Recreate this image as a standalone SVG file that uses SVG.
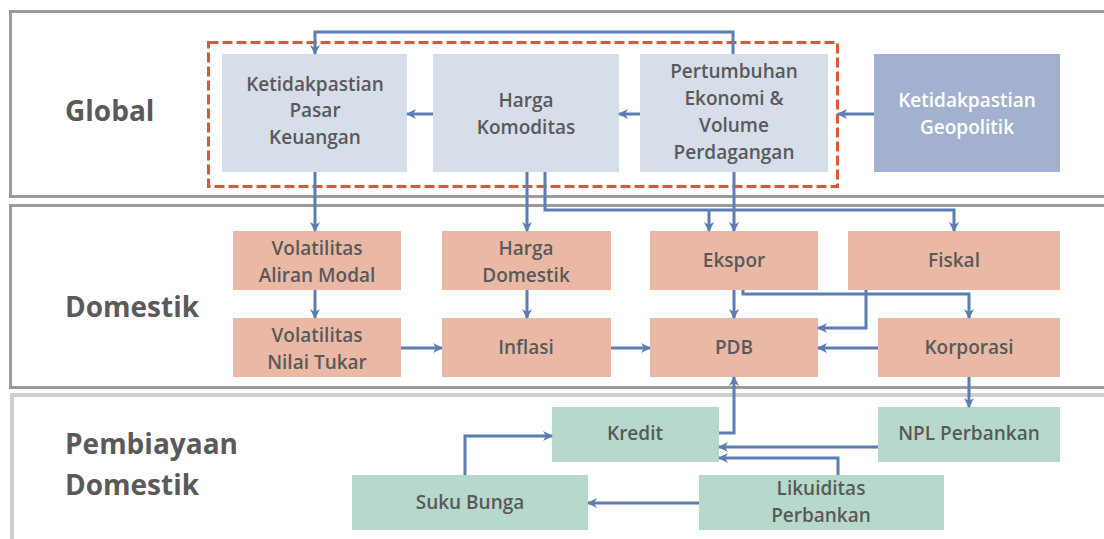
<svg xmlns="http://www.w3.org/2000/svg" width="1104" height="539" viewBox="0 0 1104 539">
<defs>
<style>
.sec{fill:none;stroke:#9b9b9b;stroke-width:3}
.sec3{fill:none;stroke:#cfcfcf;stroke-width:4}
.lbl{font-family:"Open Sans","Liberation Sans",sans-serif;font-weight:700;font-size:28px;fill:#5a5a5a}
.t{font-family:"Open Sans","Liberation Sans",sans-serif;font-size:19px;font-weight:600;fill:#595959;text-anchor:middle}
.tw{fill:#ffffff}
.g{fill:#d6deea}
.gp{fill:#a2b1cf}
.d{fill:#eab9a5}
.p{fill:#b7d9cb}
.c{fill:none;stroke:#5b7db4;stroke-width:3;marker-end:url(#ah)}
</style>
<marker id="ah" viewBox="0 0 10 10" refX="9" refY="5" markerWidth="10" markerHeight="10" markerUnits="userSpaceOnUse" orient="auto">
<path d="M0,0 L10,5 L0,10 L3,5 Z" fill="#5b7db4"/>
</marker>
</defs>
<rect width="1104" height="539" fill="#ffffff"/>
<g id="sections">
<rect class="sec" x="10.5" y="11.5" width="1110" height="185"/>
<rect class="sec" x="10.5" y="205.5" width="1110" height="182"/>
<path class="sec3" d="M12,545 V395 H1110"/>
<text class="lbl" x="65" y="121">Global</text>
<text class="lbl" x="65" y="317">Domestik</text>
<text class="lbl" x="65" y="454">Pembiayaan</text>
<text class="lbl" x="65" y="495">Domestik</text>
</g>
<rect id="globalGroup" x="208.5" y="42.5" width="629" height="144" fill="none" stroke="#d65a3a" stroke-width="3" stroke-dasharray="10 4"/>
<g id="n-ketidakpastian-pasar">
<rect class="g" x="222" y="54" width="185" height="118"/>
<text class="t" x="315" y="91">Ketidakpastian</text>
<text class="t" x="315" y="117">Pasar</text>
<text class="t" x="315" y="144">Keuangan</text>
</g>
<g id="n-harga-komoditas">
<rect class="g" x="433" y="54" width="186" height="118"/>
<text class="t" x="526" y="107">Harga</text>
<text class="t" x="526" y="134">Komoditas</text>
</g>
<g id="n-pertumbuhan">
<rect class="g" x="640" y="54" width="188" height="118"/>
<text class="t" x="734" y="78">Pertumbuhan</text>
<text class="t" x="734" y="105">Ekonomi &amp;</text>
<text class="t" x="734" y="132">Volume</text>
<text class="t" x="734" y="159">Perdagangan</text>
</g>
<g id="n-geopolitik">
<rect class="gp" x="874" y="54" width="186" height="118"/>
<text class="t tw" x="967" y="107">Ketidakpastian</text>
<text class="t tw" x="967" y="134">Geopolitik</text>
</g>
<g id="n-vol-aliran">
<rect class="d" x="233" y="231" width="168" height="59"/>
<text class="t" x="317" y="255">Volatilitas</text>
<text class="t" x="317" y="282">Aliran Modal</text>
</g>
<g id="n-harga-domestik">
<rect class="d" x="442" y="231" width="169" height="59"/>
<text class="t" x="526" y="255">Harga</text>
<text class="t" x="526" y="282">Domestik</text>
</g>
<g id="n-ekspor">
<rect class="d" x="650" y="231" width="168" height="59"/>
<text class="t" x="734" y="267">Ekspor</text>
</g>
<g id="n-fiskal">
<rect class="d" x="848" y="231" width="212" height="59"/>
<text class="t" x="954" y="267">Fiskal</text>
</g>
<g id="n-vol-nilai">
<rect class="d" x="233" y="318" width="168" height="59"/>
<text class="t" x="317" y="342">Volatilitas</text>
<text class="t" x="317" y="369">Nilai Tukar</text>
</g>
<g id="n-inflasi">
<rect class="d" x="442" y="318" width="169" height="59"/>
<text class="t" x="526" y="354">Inflasi</text>
</g>
<g id="n-pdb">
<rect class="d" x="650" y="318" width="168" height="59"/>
<text class="t" x="734" y="354">PDB</text>
</g>
<g id="n-korporasi">
<rect class="d" x="878" y="318" width="182" height="59"/>
<text class="t" x="969" y="354">Korporasi</text>
</g>
<g id="n-kredit">
<rect class="p" x="552" y="407" width="167" height="55"/>
<text class="t" x="635" y="440">Kredit</text>
</g>
<g id="n-npl">
<rect class="p" x="878" y="407" width="182" height="55"/>
<text class="t" x="969" y="440">NPL Perbankan</text>
</g>
<g id="n-suku-bunga">
<rect class="p" x="352" y="475" width="236" height="55"/>
<text class="t" x="470" y="509">Suku Bunga</text>
</g>
<g id="n-likuiditas">
<rect class="p" x="699" y="475" width="245" height="55"/>
<text class="t" x="821" y="495">Likuiditas</text>
<text class="t" x="821" y="522">Perbankan</text>
</g>
<g id="connectors">
<path class="c" d="M733,54 V32 H315 V54"/>
<path class="c" d="M433,114 H407"/>
<path class="c" d="M640,114 H619"/>
<path class="c" d="M874,114 H838"/>
<path class="c" d="M315,172 V231"/>
<path class="c" d="M527,172 V231"/>
<path class="c" d="M545,172 V210 H954 V231"/>
<path class="c" d="M709,210 V231"/>
<path class="c" d="M734,172 V231"/>
<path class="c" d="M315,290 V318"/>
<path class="c" d="M527,290 V318"/>
<path class="c" d="M401,348 H442"/>
<path class="c" d="M611,348 H650"/>
<path class="c" d="M734,290 V318"/>
<path class="c" d="M743,290 V294 H969 V318"/>
<path class="c" d="M866,290 V328 H818"/>
<path class="c" d="M878,348 H818"/>
<path class="c" d="M969,377 V407"/>
<path class="c" d="M719,433 H734 V377"/>
<path class="c" d="M465,475 V436 H552"/>
<path class="c" d="M878,447 H719"/>
<path class="c" d="M838,475 V458 H719"/>
<path class="c" d="M699,503 H588"/>
</g>
</svg>
